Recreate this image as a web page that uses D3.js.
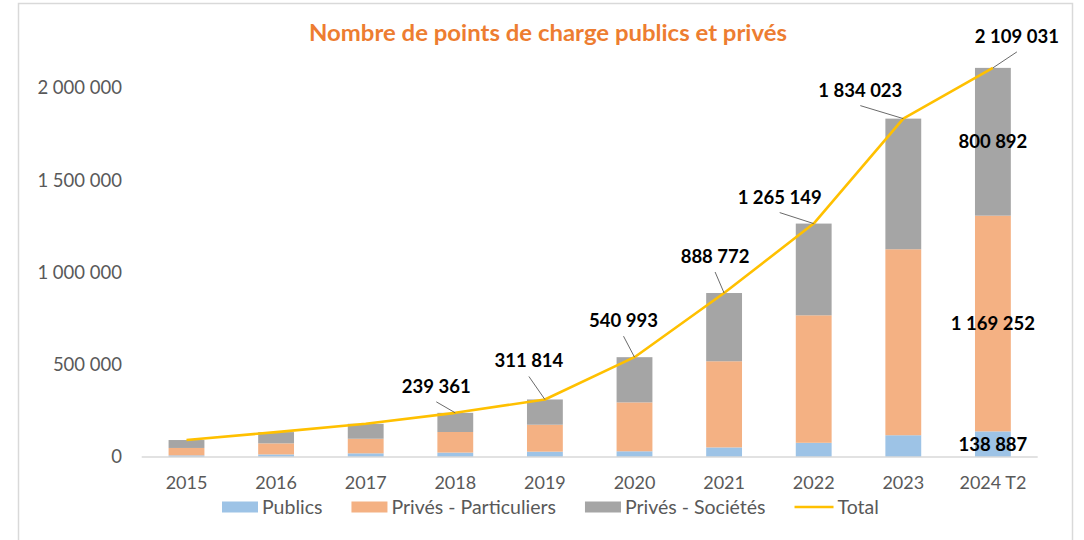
<!DOCTYPE html>
<html>
<head>
<meta charset="utf-8">
<script src="https://cdn.jsdelivr.net/npm/d3@7"></script>
<style>
  body { margin: 0; background: #fff; }
  svg text { font-family: Lato, "Liberation Sans", sans-serif; }
</style>
</head>
<body>
<div class="canvas"></div>
<script>
// data
const years = ['2015', '2016', '2017', '2018', '2019', '2020', '2021', '2022', '2023', '2024 T2'];
const publics = [9000, 14000, 20000, 24000, 29000, 31000, 52000, 77000, 118000, 138887];
const particuliers = [40000, 60000, 79000, 111500, 146000, 265000, 467000, 691000, 1008000, 1169252];
const societes = [43000, 61000, 81000, 103861, 136814, 244993, 369772, 497149, 708023, 800892];
const totals = [92000, 135000, 180000, 239361, 311814, 540993, 888772, 1265149, 1834023, 2109031];
const yTicks = [0, 500000, 1000000, 1500000, 2000000];

const seriesNames = ['Publics', 'Privés - Particuliers', 'Privés - Sociétés'];
const colours = ['#9DC3E6', '#F4B183', '#A5A5A5'];
const lineColour = '#FFC000';

// which totals get a label, and where excel left them (dx, dy from point)
const labelOffsets = {
    '2018': [-19, -20], '2019': [-16, -32], '2020': [-11, -30], '2021': [-9, -30],
    '2022': [-34, -20], '2023': [-43, -22], '2024 T2': [24, -25]
};

const dims = { width: 1084, height: 540 };
const fr = d3.formatLocale({ decimal: ',', thousands: '\u00a0', grouping: [3], currency: ['', ' €'] });
const fmt = fr.format(',');

const svg = d3.select('.canvas')
    .append('svg')
    .attr('width', dims.width)
    .attr('height', dims.height);

// chart frame
svg.append('rect')
    .attr('x', 18.5).attr('y', 3.5)
    .attr('width', 1054).attr('height', 560)
    .attr('fill', 'none')
    .attr('stroke', '#D9D9D9')
    .attr('stroke-width', 1.5);

const x = d3.scaleBand()
    .domain(years)
    .range([141.7, 1037.7])
    .paddingInner(0.6)
    .paddingOuter(0.3);

const y = d3.scaleLinear()
    .domain([0, 2000000])
    .range([457, 88]);

// stack
const rows = years.map((yr, i) => ({
    year: yr,
    'Publics': publics[i],
    'Privés - Particuliers': particuliers[i],
    'Privés - Sociétés': societes[i]
}));
const stack = d3.stack().keys(seriesNames);
const stacked = stack(rows);

const graph = svg.append('g');

graph.selectAll('g.series')
    .data(stacked)
    .enter().append('g')
    .attr('class', 'series')
    .attr('fill', (d, i) => colours[i])
    .selectAll('rect')
    .data(d => d)
    .enter().append('rect')
    .attr('x', d => x(d.data.year))
    .attr('width', x.bandwidth())
    .attr('y', d => y(d[1]))
    .attr('height', d => y(d[0]) - y(d[1]));

// baseline
graph.append('line')
    .attr('x1', 141.7).attr('x2', 1037.7)
    .attr('y1', y(0)).attr('y2', y(0))
    .attr('stroke', '#D9D9D9')
    .attr('stroke-width', 1.3);

// y axis labels (no axis line in the picture)
const yAxis = d3.axisLeft(y)
    .tickValues(yTicks)
    .tickFormat(fmt)
    .tickSize(0)
    .tickPadding(0);
const yg = svg.append('g')
    .attr('transform', 'translate(122, 0)')
    .call(yAxis);
yg.select('.domain').remove();
yg.selectAll('text')
    .attr('fill', '#595959')
    .attr('font-size', 18.5)
    .style('font-family', 'Lato, sans-serif');

// x axis labels
const xAxis = d3.axisBottom(x).tickSize(0).tickPadding(0);
const xg = svg.append('g')
    .attr('transform', 'translate(0, 476)')
    .call(xAxis);
xg.select('.domain').remove();
xg.selectAll('text')
    .attr('fill', '#595959')
    .attr('font-size', 18)
    .attr('dy', '0.71em')
    .style('font-family', 'Lato, sans-serif');

// total line (straight segments)
const cx = yr => x(yr) + x.bandwidth() / 2;
const line = d3.line()
    .x(d => cx(d.year))
    .y(d => y(d.value));

const totalData = years.map((yr, i) => ({ year: yr, value: totals[i] }));

graph.append('path')
    .datum(totalData)
    .attr('d', line)
    .attr('fill', 'none')
    .attr('stroke', lineColour)
    .attr('stroke-width', 2.6)
    .attr('stroke-linejoin', 'round');

// total labels with leader lines
const labelled = totalData.filter(d => labelOffsets[d.year]);

graph.selectAll('line.leader')
    .data(labelled)
    .enter().append('line')
    .attr('class', 'leader')
    .attr('x1', d => cx(d.year) + labelOffsets[d.year][0])
    .attr('y1', d => y(d.value) + labelOffsets[d.year][1] + 9)
    .attr('x2', d => cx(d.year))
    .attr('y2', d => y(d.value))
    .attr('stroke', '#595959')
    .attr('stroke-width', 0.9);

graph.selectAll('text.total')
    .data(labelled)
    .enter().append('text')
    .attr('class', 'total')
    .attr('x', d => cx(d.year) + labelOffsets[d.year][0])
    .attr('y', d => y(d.value) + labelOffsets[d.year][1])
    .attr('text-anchor', 'middle')
    .attr('font-size', 18.5)
    .attr('font-weight', 'bold')
    .attr('fill', '#000')
    .text(d => fmt(d.value));

// segment labels on the last bar
const last = years.length - 1;
graph.selectAll('text.seg')
    .data(stacked.map(s => s[last]))
    .enter().append('text')
    .attr('class', 'seg')
    .attr('x', d => cx(d.data.year))
    .attr('y', d => (y(d[0]) + y(d[1])) / 2)
    .attr('dy', '0.36em')
    .attr('text-anchor', 'middle')
    .attr('font-size', 18.5)
    .attr('font-weight', 'bold')
    .attr('fill', '#000')
    .text(d => fmt(d[1] - d[0]));

// title
svg.append('text')
    .attr('x', 548)
    .attr('y', 41)
    .attr('text-anchor', 'middle')
    .attr('font-size', 22)
    .attr('font-weight', 'bold')
    .attr('fill', '#ED7D31')
    .attr('textLength', 478)
    .attr('lengthAdjust', 'spacingAndGlyphs')
    .text('Nombre de points de charge publics et privés');

// legend
const legendItems = seriesNames.map((n, i) => ({ name: n, colour: colours[i], type: 'rect' }))
    .concat([{ name: 'Total', colour: lineColour, type: 'line' }]);

const legendGroup = svg.append('g')
    .attr('transform', 'translate(222, 507)');

let lx = 0;
legendItems.forEach(item => {
    const g = legendGroup.append('g').attr('transform', `translate(${lx}, 0)`);
    let sw = 36;
    if (item.type === 'rect') {
        g.append('rect')
            .attr('x', 0).attr('y', -5.5)
            .attr('width', sw).attr('height', 11)
            .attr('fill', item.colour);
    } else {
        sw = 39;
        g.append('line')
            .attr('x1', 0).attr('x2', sw)
            .attr('y1', 0).attr('y2', 0)
            .attr('stroke', item.colour)
            .attr('stroke-width', 2.6);
    }
    const t = g.append('text')
        .attr('x', sw + 4)
        .attr('y', 0)
        .attr('dy', '0.36em')
        .attr('font-size', 19.5)
        .attr('fill', '#595959')
        .text(item.name);
    lx += sw + 4 + t.node().getComputedTextLength() + 29;
});
</script>
</body>
</html>
